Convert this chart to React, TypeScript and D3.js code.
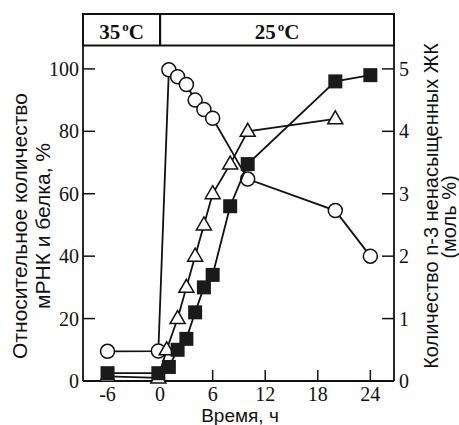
import React from "react";
import * as d3 from "d3";

const W = 459;
const H = 425;

const xTicks = [-6, 0, 6, 12, 18, 24];
const yTicksLeft = [0, 20, 40, 60, 80, 100];
const yTicksRight = [0, 1, 2, 3, 4, 5];

const circleT = [-6, -0.2, 1, 2, 3, 4, 5, 6, 10, 20, 24];
const circleV = [9.5, 9.6, 99.7, 97.5, 95, 90, 87, 84.2, 64.7, 54.6, 40];

const triT = [-6, -0.2, 0.75, 2, 3, 4, 5, 6, 8, 10, 20];
const triV = [1.5, 1, 10, 20, 30, 40, 50, 60, 69.5, 80, 84];

const sqT = [-6, -0.2, 1, 2, 3, 4, 5, 6, 8, 10, 20, 24];
const sqV = [2.5, 2.5, 4.5, 10, 13.5, 22, 30, 34, 56, 69.5, 96, 98];

const tempLabels = ["35", "25"];

export default function App() {
  const left = 83, right = 394, bottom = 381, top = 45.5, boxTop = 14;
  const x = d3.scaleLinear().domain([-8.8, 26.7]).range([left, right]);
  const y = d3.scaleLinear().domain([0, 107.5]).range([bottom, top]);
  const yR = d3.scaleLinear().domain([0, 5.375]).range([bottom, top]);
  const line = d3.line<[number, number]>().x(d => x(d[0])).y(d => y(d[1]));

  const serif = "'Liberation Serif', 'Times New Roman', serif";
  const sans = "'Liberation Sans', Arial, sans-serif";

  const circ = circleT.map((t, i) => [t, circleV[i]] as [number, number]);
  const tri = triT.map((t, i) => [t, triV[i]] as [number, number]);
  const sq = sqT.map((t, i) => [t, sqV[i]] as [number, number]);

  const tickLen = 12;
  const x0 = x(0);

  return (
    <svg width={W} height={H} style={{ position: "absolute", left: 0, top: 0, background: "#fff" }}>
      {/* header box */}
      <rect x={left} y={boxTop} width={right - left} height={top - boxTop} fill="none" stroke="#111" strokeWidth={2} />
      <line x1={x0} x2={x0} y1={boxTop} y2={top} stroke="#111" strokeWidth={2.2} />
      <text x={(left + x0) / 2} y={39} textAnchor="middle" fontFamily={serif} fontWeight="bold" fontSize={21} fill="#111">
        {tempLabels[0]}
        <tspan fontSize={13} dx={2} dy={-8}>o</tspan>
        <tspan dy={8}>C</tspan>
      </text>
      <text x={(x0 + right) / 2} y={39} textAnchor="middle" fontFamily={serif} fontWeight="bold" fontSize={21} fill="#111">
        {tempLabels[1]}
        <tspan fontSize={13} dx={2} dy={-8}>o</tspan>
        <tspan dy={8}>C</tspan>
      </text>

      {/* axes */}
      <line x1={left} x2={left} y1={top} y2={bottom} stroke="#111" strokeWidth={1.8} />
      <line x1={right} x2={right} y1={top} y2={bottom} stroke="#111" strokeWidth={1.8} />
      <line x1={left} x2={right} y1={bottom} y2={bottom} stroke="#111" strokeWidth={1.8} />

      {yTicksLeft.map(v => (
        <g key={"yl" + v}>
          {v > 0 && <line x1={left} x2={left + tickLen} y1={y(v)} y2={y(v)} stroke="#111" strokeWidth={1.5} />}
          <text x={79} y={y(v) + 7} textAnchor="end" fontFamily={serif} fontSize={20} fill="#111">{v}</text>
        </g>
      ))}
      {yTicksRight.map(v => (
        <g key={"yr" + v}>
          {v > 0 && <line x1={right - tickLen} x2={right} y1={yR(v)} y2={yR(v)} stroke="#111" strokeWidth={1.5} />}
          <text x={399} y={yR(v) + 7} textAnchor="start" fontFamily={serif} fontSize={20} fill="#111">{v}</text>
        </g>
      ))}
      {xTicks.map(t => (
        <g key={"xt" + t}>
          {t !== 0 && t !== -6 && <line x1={x(t)} x2={x(t)} y1={bottom} y2={bottom - 11} stroke="#111" strokeWidth={1.5} />}
          <text x={x(t)} y={401} textAnchor="middle" fontFamily={serif} fontSize={20} fill="#111">{t}</text>
        </g>
      ))}

      {/* axis titles */}
      <text x={240} y={422} textAnchor="middle" fontFamily={sans} fontSize={19} fill="#111">Время, ч</text>
      <text transform={`translate(27,226) rotate(-90)`} textAnchor="middle" fontFamily={sans} fontSize={21} fill="#111">Относительное количество</text>
      <text transform={`translate(50,226) rotate(-90)`} textAnchor="middle" fontFamily={sans} fontSize={21} fill="#111">мРНК и белка, %</text>
      <text transform={`translate(438,206) rotate(-90)`} textAnchor="middle" fontFamily={sans} fontSize={20} fill="#111">Количество n-3 ненасыщенных ЖК</text>
      <text transform={`translate(456,217) rotate(-90)`} textAnchor="middle" fontFamily={sans} fontSize={20} fill="#111">(моль %)</text>

      {/* circles */}
      <path d={line(circ) || ""} fill="none" stroke="#111" strokeWidth={1.8} />
      {circ.map((d, i) => (
        <circle key={"c" + i} cx={x(d[0])} cy={y(d[1])} r={7} fill="#fff" stroke="#111" strokeWidth={1.5} />
      ))}
      {/* triangles */}
      <path d={line(tri) || ""} fill="none" stroke="#111" strokeWidth={1.8} />
      {tri.map((d, i) => {
        const cx = x(d[0]), cy = y(d[1]);
        return <path key={"t" + i} d={`M${cx},${cy - 8}L${cx + 7.5},${cy + 5}L${cx - 7.5},${cy + 5}Z`} fill="#fff" stroke="#111" strokeWidth={1.5} />;
      })}
      {/* squares */}
      <path d={line(sq) || ""} fill="none" stroke="#111" strokeWidth={1.8} />
      {sq.map((d, i) => (
        <rect key={"s" + i} x={x(d[0]) - 7} y={y(d[1]) - 7} width={14} height={14} fill="#1a1a1a" />
      ))}
    </svg>
  );
}
